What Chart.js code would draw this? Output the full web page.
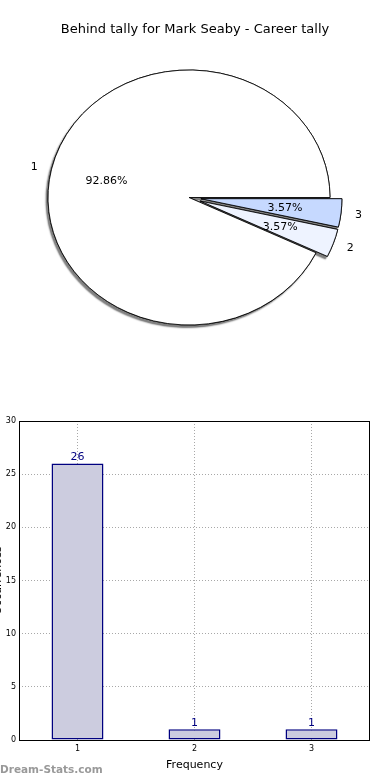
<!DOCTYPE html>
<html><head><meta charset="utf-8">
<script src="https://cdn.jsdelivr.net/npm/chart.js@4/dist/chart.umd.min.js"></script>
<style>
html,body{margin:0;padding:0;background:#fff;width:390px;height:780px;overflow:hidden}
#pie{position:absolute;left:0;top:0}
#bar{position:absolute;left:0;top:400px}
#wm{position:absolute;left:0;top:763px;font:bold 10.5px "DejaVu Sans";color:#999;white-space:nowrap}
</style></head><body>
<canvas id="pie" width="390" height="390"></canvas>
<canvas id="bar" width="390" height="380"></canvas>
<div id="wm">Dream-Stats.com</div>
<script>
const chartTitle = 'Behind tally for Mark Seaby - Career tally';
// pie slices, listed clockwise from 3 o'clock
const pieLabels = ['3', '2', '1'];
const pieValues = [1, 1, 26];
const pieColors = ['#c6d9ff', '#eef3ff', '#ffffff'];
const pieExplode = [0.085, 0.085, 0];
const barCategories = ['1', '2', '3'];
const barValues = [26, 1, 1];
const yTickValues = [0, 5, 10, 15, 20, 25, 30];
const xTitle = 'Frequency';
const yTitle = 'Occurrences';

const SX = 141 / 127.5;

function pieGeom(chart) {
  const arcs = chart.getDatasetMeta(0).data;
  return {arcs, cx: arcs[0].x, cy: arcs[0].y, R: arcs[0].outerRadius};
}

const ellipsePlugin = {
  id: 'ellipse',
  beforeDatasetsDraw(chart) {
    const ctx = chart.ctx;
    const {arcs, cx, cy, R} = pieGeom(chart);
    const place = (i) => {
      const a = arcs[i];
      const m = (a.startAngle + a.endAngle) / 2;
      const d = pieExplode[i] * R;
      ctx.translate(cx, cy); ctx.scale(SX, 1); ctx.translate(-cx, -cy);
      ctx.translate(d * Math.cos(m), d * Math.sin(m));
    };
    arcs.forEach((a, i) => {
      ctx.save();
      ctx.shadowColor = 'rgba(0,0,0,0.5)';
      ctx.shadowOffsetX = -2; ctx.shadowOffsetY = 2.5; ctx.shadowBlur = 1.5;
      place(i); a.draw(ctx); ctx.restore();
    });
    arcs.forEach((a, i) => { ctx.save(); place(i); a.draw(ctx); ctx.restore(); });
    return false;
  },
  afterDraw(chart) {
    const ctx = chart.ctx;
    const {arcs, cx, cy, R} = pieGeom(chart);
    const total = pieValues.reduce((s, v) => s + v, 0);
    ctx.save();
    ctx.fillStyle = '#000';
    ctx.textBaseline = 'middle';
    ctx.font = '11px "DejaVu Sans"';
    arcs.forEach((a, i) => {
      const m = (a.startAngle + a.endAngle) / 2;
      const d = pieExplode[i] * R;
      const pt = (f) => [cx + (d + f * R) * Math.cos(m) * SX, cy + (d + f * R) * Math.sin(m)];
      const [lx, ly] = pt(1.1);
      ctx.textAlign = Math.cos(m) >= 0 ? 'left' : 'right';
      ctx.fillText(pieLabels[i], lx, ly + 1);
      const [px, py] = pt(0.6);
      ctx.textAlign = 'center';
      ctx.fillText((pieValues[i] / total * 100).toFixed(2) + '%', px, py + 1);
    });
    ctx.font = '13px "DejaVu Sans"';
    ctx.textAlign = 'center';
    ctx.fillText(chartTitle, 195, 30);
    ctx.restore();
  }
};

new Chart(document.getElementById('pie'), {
  type: 'pie',
  data: {labels: pieLabels, datasets: [{
    data: pieValues, backgroundColor: pieColors, borderColor: '#000', borderWidth: 0.8,
    radius: 127.5
  }]},
  options: {
    responsive: false, animation: false, rotation: 90, events: [],
    layout: {padding: {left: 0, right: 12, top: 5, bottom: 0}},
    plugins: {legend: {display: false}, tooltip: {enabled: false}, title: {display: false}}
  },
  plugins: [ellipsePlugin]
});

const barDecor = {
  id: 'barDecor',
  afterDatasetsDraw(chart) {
    const ctx = chart.ctx;
    const bars = chart.getDatasetMeta(0).data;
    ctx.save();
    ctx.font = '11px "DejaVu Sans"';
    ctx.fillStyle = '#000080';
    ctx.textAlign = 'center';
    ctx.textBaseline = 'bottom';
    bars.forEach((b, i) => ctx.fillText(String(barValues[i]), b.x, b.y - 1));
    ctx.restore();
  },
  afterDraw(chart) {
    const ctx = chart.ctx;
    const a = chart.chartArea;
    ctx.save();
    ctx.strokeStyle = '#000';
    ctx.lineWidth = 1;
    ctx.strokeRect(Math.round(a.left) + 0.5, Math.round(a.top) + 0.5, Math.round(a.right - a.left) - 1, Math.round(a.bottom - a.top));
    ctx.font = '11px "DejaVu Sans"';
    ctx.fillStyle = '#000';
    ctx.textAlign = 'center';
    ctx.textBaseline = 'middle';
    ctx.translate(-1.5, (a.top + a.bottom) / 2);
    ctx.rotate(-Math.PI / 2);
    ctx.fillText(yTitle, 0, 0);
    ctx.restore();
  }
};

new Chart(document.getElementById('bar'), {
  type: 'bar',
  data: {labels: barCategories, datasets: [{
    data: barValues, backgroundColor: '#ccccdf', borderColor: '#000080', borderWidth: 1.5,
    borderSkipped: false, barPercentage: 0.444, categoryPercentage: 1
  }]},
  options: {
    responsive: false, animation: false, events: [],
    layout: {padding: {top: 21, left: 0, right: 20, bottom: 0}},
    plugins: {legend: {display: false}, tooltip: {enabled: false}},
    scales: {
      x: {
        grid: {offset: false, color: '#a8a8a8', lineWidth: 1, drawTicks: false},
        border: {display: false, dash: [1, 2]},
        ticks: {font: {family: 'DejaVu Sans', size: 8}, color: '#000', padding: 4},
        title: {display: true, text: xTitle, font: {family: 'DejaVu Sans', size: 11}, color: '#000', padding: {top: 2, bottom: 8}},
        afterFit: (s) => { s.height = 40; }
      },
      y: {
        min: 0, max: 30,
        afterBuildTicks: (s) => { s.ticks = yTickValues.map(v => ({value: v})); },
        grid: {color: '#a8a8a8', lineWidth: 1, drawTicks: false},
        border: {display: false, dash: [1, 2]},
        ticks: {font: {family: 'DejaVu Sans', size: 8}, color: '#000', padding: 3},
        afterFit: (s) => { s.width = 19; }
      }
    }
  },
  plugins: [barDecor]
});
</script>
</body></html>
